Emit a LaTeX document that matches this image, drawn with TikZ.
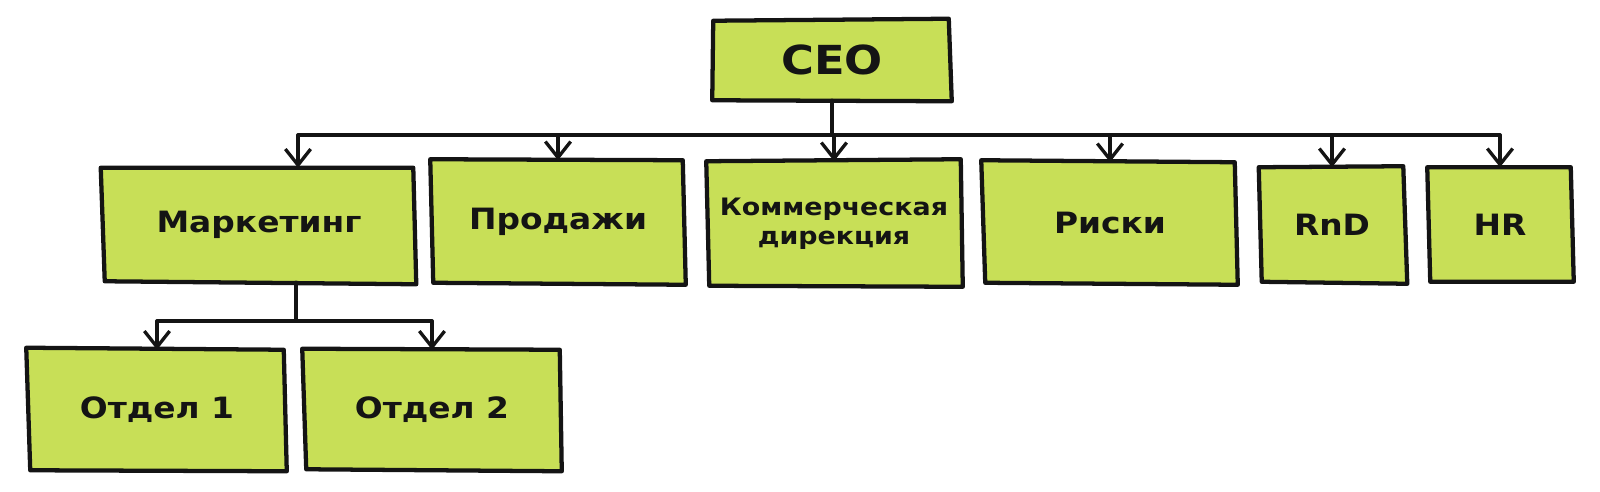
\documentclass[tikz,border=0pt]{standalone}
\usepackage{fontspec}
\newfontfamily\labfont{DejaVu Sans}[FakeStretch=1.12]
\usetikzlibrary{arrows.meta,calc,backgrounds}
\definecolor{boxgreen}{RGB}{200,223,87}
\definecolor{ink}{RGB}{20,20,20}
\newcommand\sketchbox[5]{%
  \filldraw[boxline] ($(#1.north west)+(#2)$) -- ($(#1.north east)+(#3)$) --
    ($(#1.south east)+(#4)$) -- ($(#1.south west)+(#5)$) -- cycle;}
\tikzset{
  box/.style={rectangle, inner sep=0pt, align=center, text=ink,
    font=\labfont\bfseries\fontsize{22}{26}\selectfont},
  sz/.style 2 args={minimum width=#1*0.75pt, minimum height=#2*0.75pt},
  boxline/.style={draw=ink, fill=boxgreen, line width=3.2pt, line join=round},
  conn/.style={draw=ink, line width=2.5pt, line cap=round},
  arr/.style={conn, -{Straight Barb[length=12pt,width=19pt,line width=2.5pt]}},
}
\begin{document}
\begin{tikzpicture}[x=0.75pt,y=-0.75pt]
\useasboundingbox (0,0) rectangle (1600,492);
% nodes
\node[box,sz={237}{80},font=\labfont\bfseries\fontsize{30}{34}\selectfont] (ceo) at (832,60) {CEO};
\node[box,sz={314}{114}] (mk) at (259,225) {Маркетинг};
\node[box,sz={255}{123}] (prod) at (558,222) {Продажи};
\node[box,sz={255}{125},font=\labfont\bfseries\fontsize{18}{22}\selectfont] (kom) at (834,224) {Коммерческая\\дирекция};
\node[box,sz={255}{121}] (risk) at (1110,223) {Риски};
\node[box,sz={146}{115}] (rnd) at (1332,225) {RnD};
\node[box,sz={145}{115}] (hr) at (1500,225) {HR};
\node[box,sz={259}{120}] (o1) at (157,410) {Отдел 1};
\node[box,sz={257}{120}] (o2) at (432,410) {Отдел 2};
% helper coordinates
\coordinate (bus) at (0,135);
\coordinate (mkin) at ($(mk.north)+(39,0)$);
\coordinate (mkout) at ($(mk.south)+(37,0)$);
\coordinate (sub) at (0,321);
\begin{pgfonlayer}{background}
\sketchbox{ceo}{0,1}{-2,-1}{1,1}{-1,0}
\sketchbox{mk}{-1,0}{-3,0}{0,2}{3,-1}
\sketchbox{prod}{0,-1}{-3,0}{0,1}{3,-1}
\sketchbox{kom}{0,0}{-1,-2}{1,0}{3,-1}
\sketchbox{risk}{-1,-2}{-3,0}{0,1}{3,-1}
\sketchbox{rnd}{0,0}{-2,-1}{2,1}{3,-1}
\sketchbox{hr}{0,0}{-2,0}{1,-1}{3,-1}
\sketchbox{o1}{-1,-2}{-3,0}{0,1}{3,0}
\sketchbox{o2}{-1,-1}{-1,0}{1,1}{3,-1}
\end{pgfonlayer}
% connectors
\draw[conn] (ceo.south) -- (ceo.south |- bus);
\draw[conn] (mkin |- bus) -- (hr.north |- bus);
\draw[arr] (mkin |- bus) -- (mkin);
\draw[arr] (prod.north |- bus) -- (prod.north);
\draw[arr] (kom.north |- bus) -- (kom.north);
\draw[arr] (risk.north |- bus) -- (risk.north);
\draw[arr] (rnd.north |- bus) -- (rnd.north);
\draw[arr] (hr.north |- bus) -- (hr.north);
\draw[conn] (mkout) -- (mkout |- sub);
\draw[conn] (o1.north |- sub) -- (o2.north |- sub);
\draw[arr] (o1.north |- sub) -- (o1.north);
\draw[arr] (o2.north |- sub) -- (o2.north);
\end{tikzpicture}
\end{document}
